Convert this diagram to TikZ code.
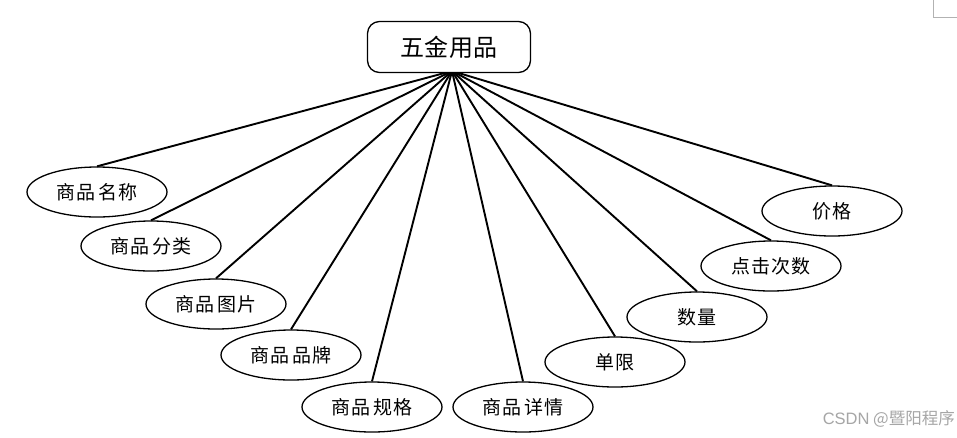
\documentclass[tikz,border=0pt]{standalone}
\usepackage{fontspec}
\setmainfont{Noto Sans CJK SC}
\newfontfamily\latinwm{Liberation Sans}
\usetikzlibrary{shapes.geometric}
\newcommand{\gp}{\hspace{3pt}}
\begin{document}
\begin{tikzpicture}[x=1pt,y=-1pt,
  attr/.style={draw=black,line width=1.3pt,ellipse,fill=white,minimum width=140pt,minimum height=50pt,inner sep=0pt,font=\fontsize{19}{21}\selectfont\addfontfeature{LetterSpace=4}},
  link/.style={line width=1.9pt,black},
  topbox/.style={draw=black,line width=1.3pt,rounded corners=12pt,fill=white,minimum width=163pt,minimum height=51pt,inner sep=0pt,font=\fontsize{24}{26}\selectfont\addfontfeature{LetterSpace=2}}]
\useasboundingbox (0,0) rectangle (957,437);
\fill[white] (0,0) rectangle (957,437);
\coordinate (apex) at (452,71);
\node[attr] (e1) at (97,192) {商品\gp 名称};
\node[attr] (e2) at (151,246) {商品\gp 分类};
\node[attr] (e3) at (216,304) {商品\gp 图片};
\node[attr] (e4) at (291,355) {商品\gp 品牌};
\node[attr] (e5) at (372,407) {商品\gp 规格};
\node[attr] (e6) at (523,407) {商品\gp 详情};
\node[attr] (e7) at (615,362) {单限};
\node[attr] (e8) at (697,317) {数量};
\node[attr] (e9) at (771,266) {点击次数};
\node[attr] (e10) at (832,211) {价格};
\foreach \e in {e1,e2,e3,e4,e5,e6,e7,e8,e9,e10}{
  \draw[link] (apex) -- (\e.north);
}
\node[topbox] (top) at (449,47) {五金用品};
\node[text=black!35,font=\fontsize{16.5}{18}\selectfont,anchor=east,inner sep=0pt] (wm) at (955,419) {{\latinwm CSDN} @暨阳程序};
\draw[black!30,line width=0.6pt] (933,0) -- (933,17) -- (957,17);
\end{tikzpicture}
\end{document}
